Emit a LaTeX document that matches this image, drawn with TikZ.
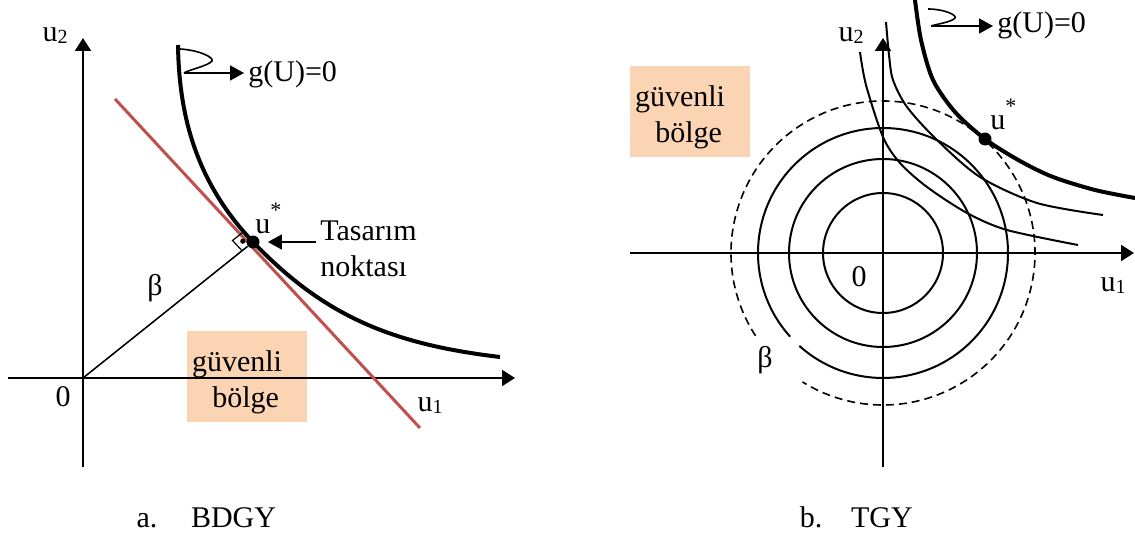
\documentclass[tikz,border=0pt]{standalone}
\usepackage{fontspec}
\setmainfont{Liberation Serif}
\usepackage{xcolor}
\usetikzlibrary{arrows.meta}
\definecolor{tanred}{HTML}{C0504D}
\definecolor{safefill}{HTML}{FBD4B4}
\newcommand\lowsub[1]{\raisebox{-1pt}{\fontsize{10}{12}\selectfont #1}}
\newcommand\hstar{\raisebox{8pt}{\fontsize{11}{12}\selectfont *}}

\begin{document}
\begin{tikzpicture}[x=0.5pt,y=-0.5pt,
 font=\fontsize{15}{18}\selectfont,
 axis/.style={line width=1pt,-{Triangle[length=6.5pt,width=8pt]}},
 arr/.style={line width=0.8pt,-{Triangle[length=7pt,width=7.5pt]}},
 limit/.style={line width=2pt},
 level/.style={line width=1pt},
 ring/.style={line width=0.8pt,dash pattern=on 4pt off 2.5pt},
 zone/.style={fill=safefill,minimum width=60pt,minimum height=45.5pt,
 text width=55pt,align=left,inner sep=2.5pt},
 dotpt/.style={circle,fill,inner sep=0pt,minimum size=6.5pt}]
\useasboundingbox (0,0) rectangle (1135,551);

% a. BDGY
\coordinate (O1) at (83,378);
\coordinate (x1a) at (8,378);
\coordinate (x1b) at (515,378);
\coordinate (y1a) at (83,467);
\coordinate (y1b) at (83,38);
\node[zone] (safe1) at (247,376.5) {\rule{0pt}{16pt}güvenli\\\hspace*{0.68em}bölge};
\draw[axis] (x1a) -- (x1b);
\draw[axis] (y1a) -- (y1b);
\draw[tanred,line width=1.5pt] (115,99) -- (420,428);
\node[dotpt] (dot1) at (253,242) {};
\draw[limit] (178,45) .. controls (179,110) and (193,179) .. (dot1.center)
 .. controls (323,315) and (390,344) .. (500,357);
\draw[line width=0.75pt] (O1) -- (dot1);
\draw[line width=0.6pt] (242.1,250.8) -- (232.5,240.5) -- (243.5,231.8);
\fill (242.8,241.2) circle[radius=1.3pt];
\node[anchor=base west,inner sep=0pt] (ustar1) at (255,233) {u\hstar};
\node[anchor=west,align=left,inner sep=2pt] (tas) at (316,249) {Tasarım\\noktası};
\draw[arr,shorten >=4pt] (tas.west |- dot1) -- (dot1);
\coordinate (sq1) at (184,73);
\draw[line width=0.8pt] (180,49) .. controls (198,50) and (214,57) .. (212,61)
 .. controls (208,66) and (188,70) .. (sq1);
\node[anchor=west,inner sep=2pt] (g1) at (244,74) {g(U)=0};
\draw[arr] (sq1) -- (g1.west |- sq1);
\node (u2a) at (55,36) {u\lowsub{2}};
\node (u1a) at (430,406) {u\lowsub{1}};
\node (zero1) at (63,397) {0};
\node (beta1) at (155,288) {β};
\node[anchor=base] (capa) at (147,527) {a.};
\node[anchor=base west] (capab) at (184,527) {BDGY};

% b. TGY
\coordinate (O2) at (883,253);
\coordinate (x2a) at (630,253);
\coordinate (x2b) at (1134,253);
\coordinate (y2a) at (883,467);
\coordinate (y2b) at (883,38);
\node[zone] (safe2) at (690,112) {\rule{0pt}{16pt}güvenli\\\hspace*{0.68em}bölge};
\draw[axis] (x2a) -- (x2b);
\draw[axis] (y2a) -- (y2b);
\draw[level] (O2) circle[radius=60];
\draw[level] (O2) circle[radius=94];
\draw[level] ([shift={(138:125)}]O2) arc[start angle=138,end angle=492,radius=125];
\draw[ring] ([shift={(147:152)}]O2) arc[start angle=147,end angle=482,radius=152];
\draw[level] plot[smooth] coordinates {(860,52) (866,85) (883,137) (900,163)
 (927,187) (967,213) (1007,230) (1078,245)};
\draw[level] plot[smooth] coordinates {(886,22) (889,55) (893,80) (907,107)
 (937,140) (980,177) (1037,203) (1103,215)};
\draw[limit] plot[smooth] coordinates {(915,0) (921,40) (933,80) (955,112)
 (985,139) (1020,161) (1053,177) (1095,190) (1135,198)};
\node[dotpt] (dot2) at (985,139) {};
\node[anchor=base west,inner sep=0pt] (ustar2) at (990,130) {u\hstar};
\coordinate (sq2) at (931,26);
\draw[line width=0.8pt] (928,9) .. controls (944,9) and (957,15) .. (955,18)
 .. controls (952,22) and (937,24) .. (sq2);
\node[anchor=west,inner sep=2pt] (g2) at (993,25) {g(U)=0};
\draw[arr] (sq2) -- (g2.west |- sq2);
\node (u2b) at (851,36) {u\lowsub{2}};
\node (u1b) at (1113,286) {u\lowsub{1}};
\node (zero2) at (859,277) {0};
\node (beta2) at (765,360) {β};
\node[anchor=base] (capb) at (811,527) {b.};
\node[anchor=base west] (capbb) at (844,527) {TGY};
\end{tikzpicture}
\end{document}
